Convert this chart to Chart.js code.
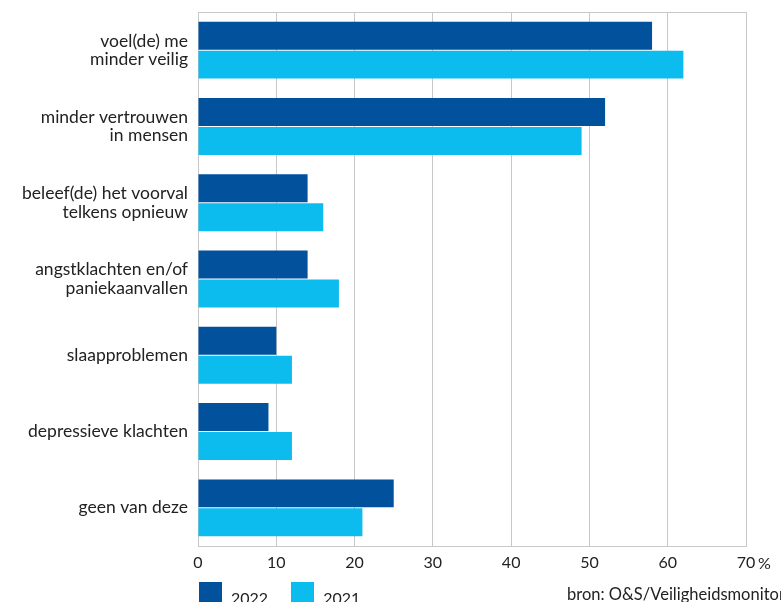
<!DOCTYPE html>
<html>
<head>
<meta charset="utf-8">
<script src="https://cdn.jsdelivr.net/npm/chart.js@4.4.1/dist/chart.umd.min.js"></script>
<style>
  body { margin: 0; background: #fff; font-family: Lato, sans-serif; color: #222; }
  #wrap { position: relative; width: 781px; height: 602px; overflow: hidden; }
  #legend { position: absolute; left: 199px; top: 582px; display: flex; align-items: flex-start; }
  .item { display: flex; align-items: flex-start; margin-right: 23px; }
  .box { width: 23px; height: 23px; margin-right: 9px; }
  .lbl { font-size: 16px; line-height: 16px; padding-top: 8px; }
  #source { position: absolute; left: 567px; top: 586px; font-size: 16.5px; line-height: 16px; white-space: nowrap; }
  #pct { position: absolute; left: 758px; top: 555px; font-size: 16px; line-height: 16px; }
</style>
</head>
<body>
<div id="wrap">
  <canvas id="chart"></canvas>
  <span id="pct">%</span>
  <div id="legend"></div>
  <div id="source">bron: O&amp;S/Veiligheidsmonitor</div>
</div>
<script>
// categories (multi-line labels)
const categories = [
  ['voel(de) me', 'minder veilig'],
  ['minder vertrouwen', 'in mensen'],
  ['beleef(de) het voorval', 'telkens opnieuw'],
  ['angstklachten en/of', 'paniekaanvallen'],
  'slaapproblemen',
  'depressieve klachten',
  'geen van deze'
];

// percentages per year
const values2022 = [58, 52, 14, 14, 10, 9, 25];
const values2021 = [62, 49, 16, 18, 12, 12, 21];

const xTicks = [0, 10, 20, 30, 40, 50, 60, 70];

const COLOR_2022 = '#01519c';
const COLOR_2021 = '#0cbcef';
const GRID = '#c8c8c8';

// draws the box around the plot area
const framePlugin = {
  id: 'frame',
  beforeDatasetsDraw(chart) {
    const { ctx, chartArea: a } = chart;
    ctx.save();
    ctx.strokeStyle = GRID;
    ctx.lineWidth = 1;
    ctx.strokeRect(a.left + 0.5, a.top + 0.5, a.right - a.left, a.bottom - a.top);
    ctx.restore();
  }
};

const chart = new Chart(document.getElementById('chart'), {
  type: 'bar',
  data: {
    labels: categories,
    datasets: [
      { label: '2022', data: values2022, backgroundColor: COLOR_2022 },
      { label: '2021', data: values2021, backgroundColor: COLOR_2021 }
    ]
  },
  options: {
    indexAxis: 'y',
    responsive: true,
    maintainAspectRatio: false,
    animation: false,
    categoryPercentage: 0.76,
    barPercentage: 0.965,
    layout: { padding: { top: 12, right: 35, left: 0, bottom: 0 } },
    plugins: {
      legend: { display: false },
      tooltip: { enabled: false }
    },
    scales: {
      x: {
        min: 0,
        max: 70,
        afterBuildTicks: scale => { scale.ticks = xTicks.map(v => ({ value: v })); },
        afterFit: scale => { scale.height = 56; },
        grid: { color: GRID, lineWidth: 1, drawTicks: false },
        border: { display: true, color: GRID },
        ticks: {
          padding: 7,
          color: '#222',
          font: { family: 'Lato', size: 16 }
        }
      },
      y: {
        afterFit: scale => {
          scale.width = 198;
          scale.paddingTop = 0;
          scale.paddingBottom = 0;
        },
        grid: { display: false, drawTicks: false },
        border: { display: true, color: GRID },
        ticks: {
          padding: 10,
          color: '#222',
          font: { family: 'Lato', size: 17.5, lineHeight: 1.06 }
        }
      }
    }
  },
  plugins: [framePlugin]
});

// html legend built from the datasets
document.getElementById('legend').innerHTML = chart.data.datasets.map(ds =>
  `<div class="item"><div class="box" style="background:${ds.backgroundColor}"></div><span class="lbl">${ds.label}</span></div>`
).join('');
</script>
</body>
</html>
